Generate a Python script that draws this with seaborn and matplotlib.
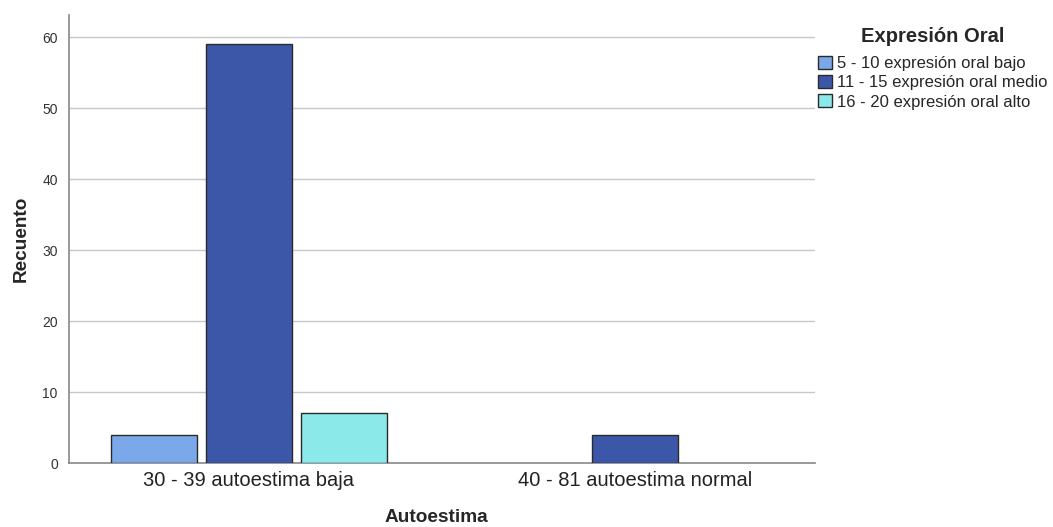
import pandas as pd
import matplotlib
matplotlib.use("Agg")
import matplotlib.pyplot as plt
import seaborn as sns

# datos
autoestima = ['30 - 39 autoestima baja', '40 - 81 autoestima normal']
niveles = ['5 - 10 expresión oral bajo', '11 - 15 expresión oral medio', '16 - 20 expresión oral alto']
recuento_baja = [4, 59, 7]
recuento_normal = [0, 4, 0]
colores = ['#7BA8E8', '#3D57A8', '#8CE9EA']

filas = []
for grupo, valores in zip(autoestima, [recuento_baja, recuento_normal]):
    for nivel, v in zip(niveles, valores):
        filas.append({'Autoestima': grupo, 'Expresion': nivel, 'Recuento': v})
df = pd.DataFrame(filas)
df_bars = df[df['Recuento'] > 0]

sns.set_theme(style="white")
plt.rcParams['font.family'] = ['Liberation Sans', 'DejaVu Sans']

fig = plt.figure(figsize=(10.53, 5.27), dpi=100)
ax = fig.add_axes([0.0655, 0.1214, 0.7085, 0.8501])

sns.barplot(data=df_bars, x='Autoestima', y='Recuento', hue='Expresion',
            order=autoestima, hue_order=niveles, palette=colores, saturation=1,
            width=0.74, gap=0.1, edgecolor='#2a2a2a', linewidth=1,
            errorbar=None, ax=ax, zorder=3)

ax.set_xlim(-0.466, 1.466)
ax.set_ylim(0, 63.1)
ax.set_yticks(range(0, 61, 10))
ax.yaxis.grid(True, color='#c8c8c8', linewidth=1, zorder=0)
ax.set_axisbelow(True)
for s in ['top', 'right']:
    ax.spines[s].set_visible(False)
for s in ['left', 'bottom']:
    ax.spines[s].set_color('#888888')
    ax.spines[s].set_linewidth(1.2)
ax.tick_params(axis='y', labelsize=10, colors='#333333', length=0, pad=8)
ax.tick_params(axis='x', labelsize=14.5, colors='#222222', length=0, pad=6)
ax.set_xlabel('Autoestima', fontsize=13.7, fontweight='bold')
ax.xaxis.set_label_coords(0.493, -0.102, transform=ax.transAxes)
ax.xaxis.label.set_va('top')
ax.set_ylabel('Recuento', fontsize=13.7, fontweight='bold', labelpad=9)

leg = ax.legend(title='Expresión Oral', loc='upper left', bbox_to_anchor=(1.0, 0.98),
                frameon=False, fontsize=12, title_fontsize=14.5,
                handlelength=0.8, handleheight=0.8, handletextpad=0.3,
                labelspacing=0.24, borderpad=0.1, borderaxespad=0.1)
leg.get_title().set_fontweight('bold')
leg._legend_box.align = "center"
leg._legend_box.sep = 7

plt.savefig('out.png', dpi=100)
